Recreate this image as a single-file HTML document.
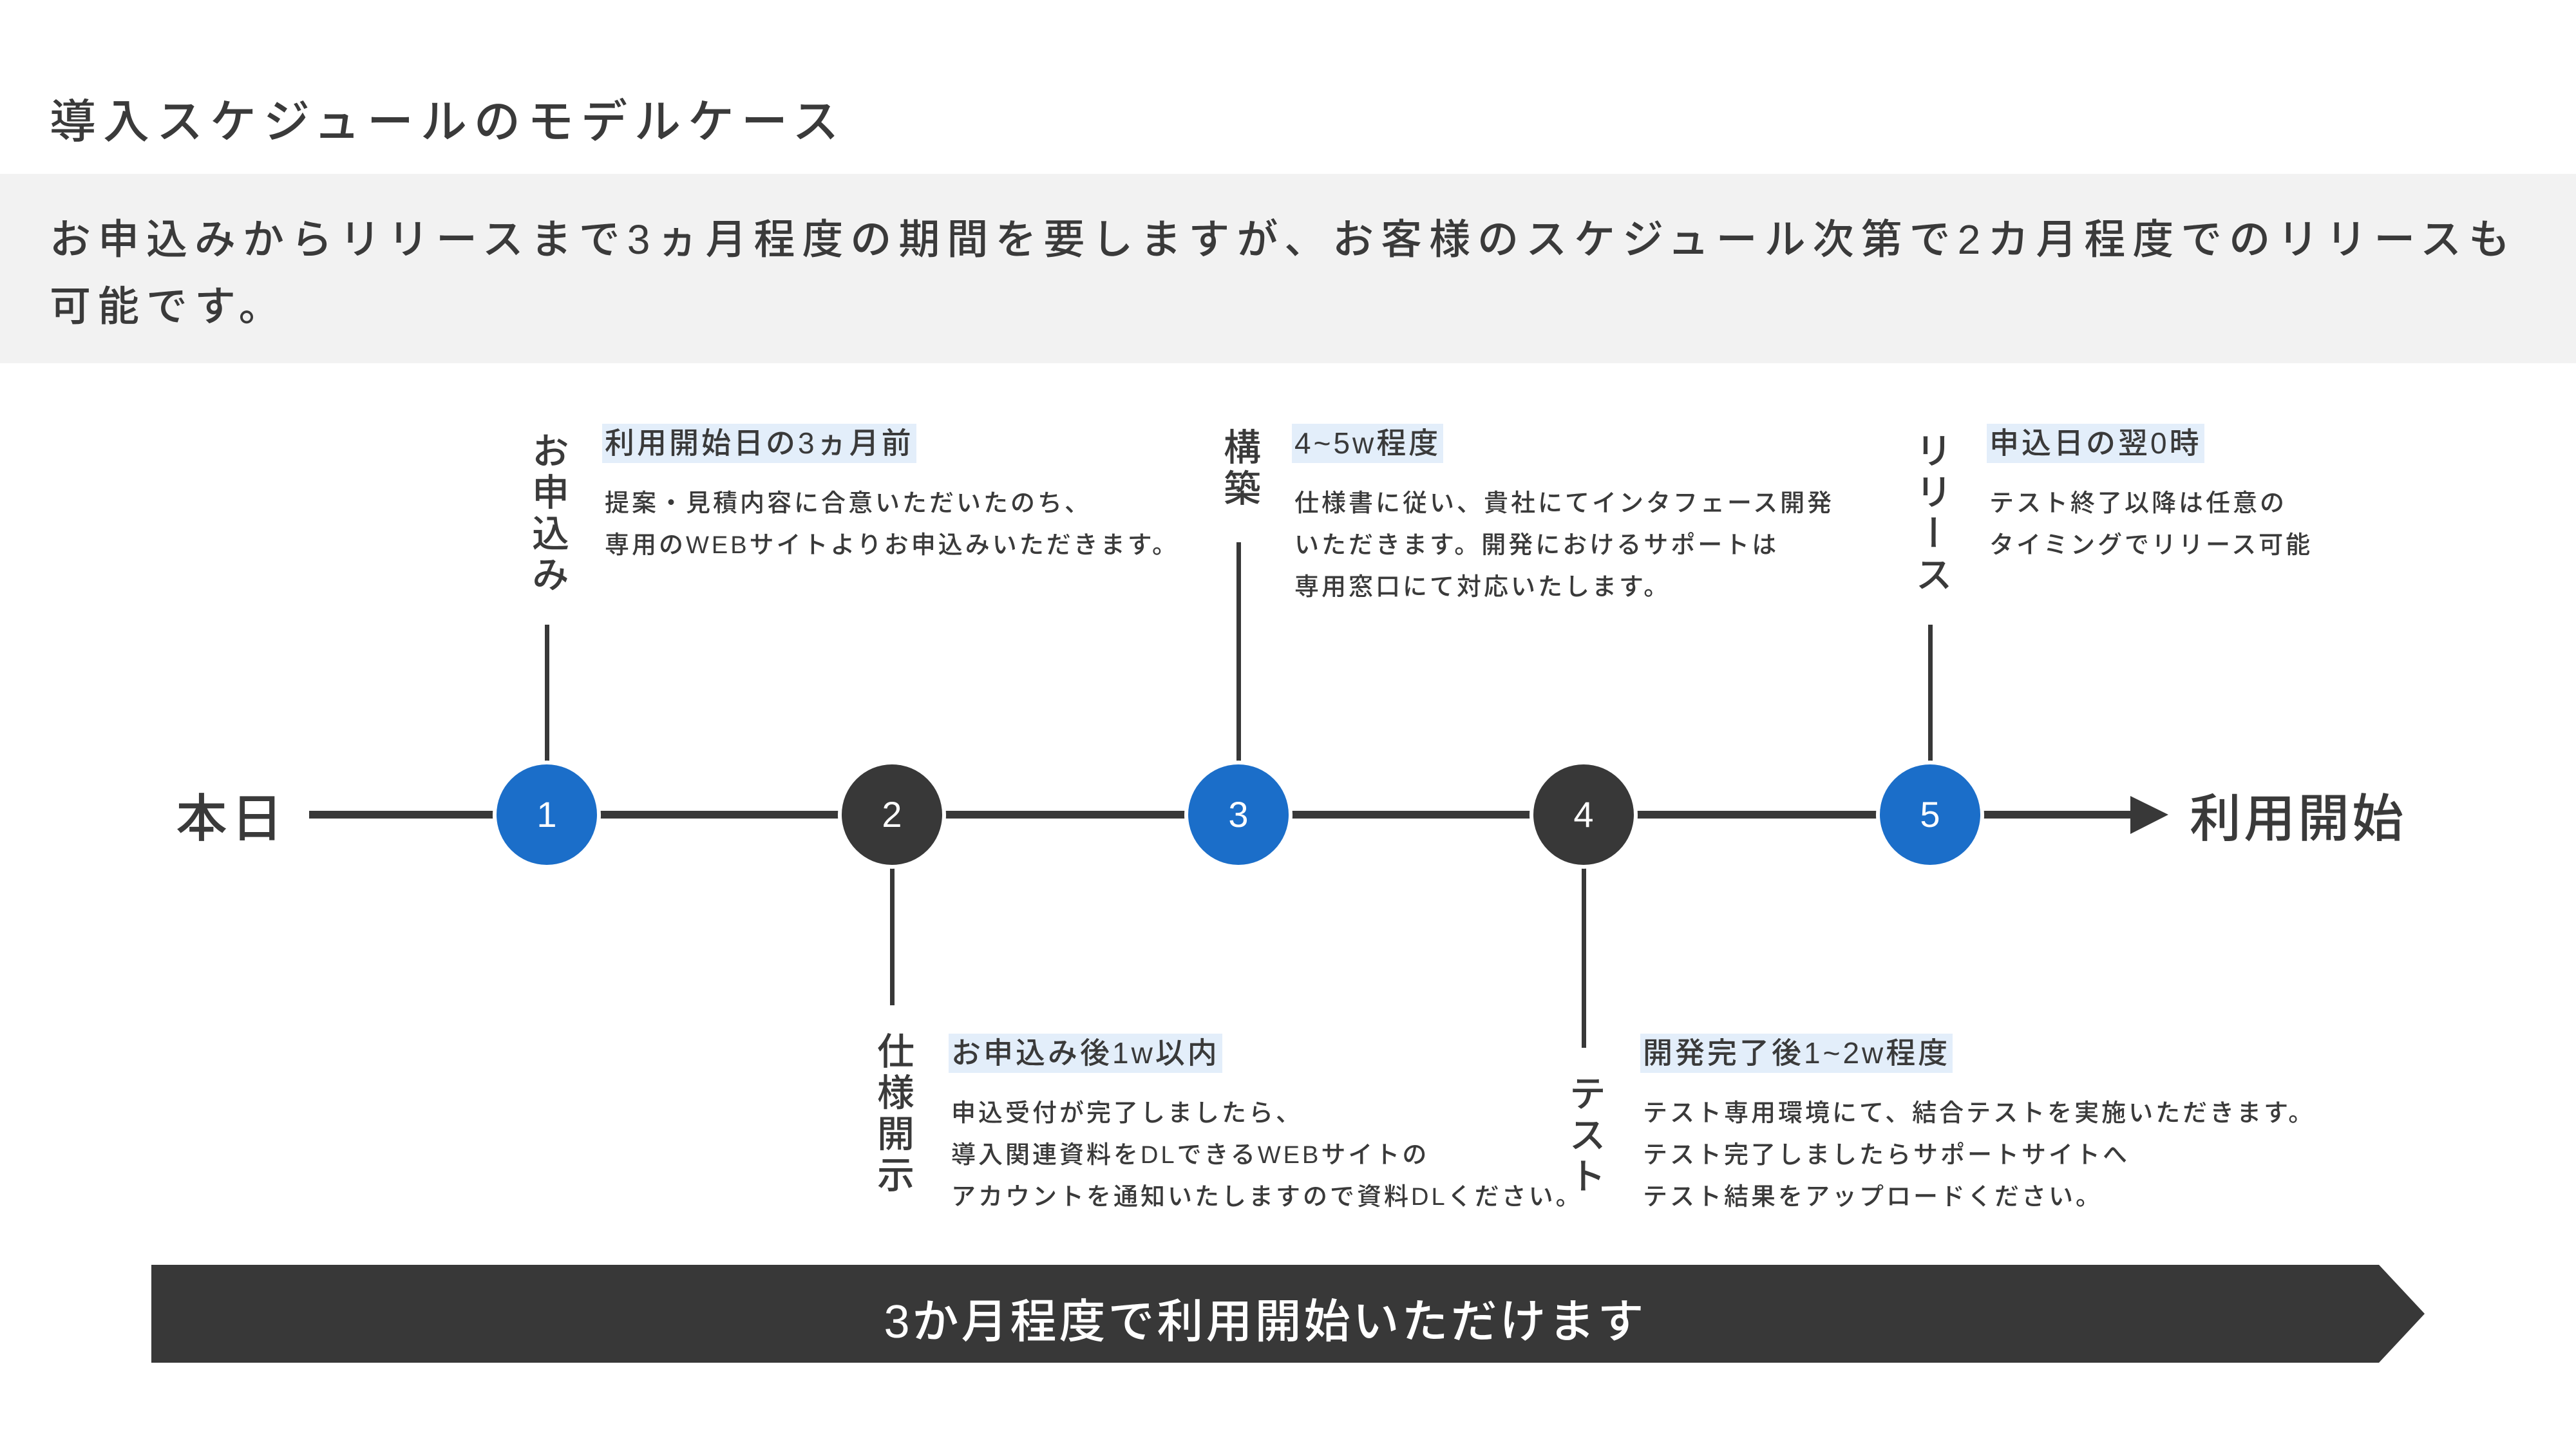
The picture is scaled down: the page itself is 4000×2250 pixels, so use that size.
<!DOCTYPE html>
<html><head><meta charset="utf-8"><style>
body{margin:0;width:4000px;height:2250px;background:#fff;position:relative;overflow:hidden;font-family:"Liberation Sans","Noto Sans CJK JP",sans-serif;color:#3a3a3a}
.a{position:absolute;white-space:nowrap}
.t{font-size:72px;letter-spacing:11px;font-weight:500}
.band{position:absolute;left:0;top:270px;width:4000px;height:294px;background:#f2f2f2}
.bt{font-size:64px;letter-spacing:11px;line-height:104px;left:77px;top:320px;font-weight:500}
.c{position:absolute;width:156px;height:156px;border-radius:50%;color:#fff;font-size:56px;text-align:center;line-height:156px}
.bl{background:#1b6ec9}.dk{background:#383838}
.v{position:absolute;width:7px;background:#383838}
.vt{position:absolute;writing-mode:vertical-rl;font-size:58px;letter-spacing:6px;transform:translateX(-50%);font-weight:500}
.tag{position:absolute;background:#e3eefa;font-size:46px;height:61px;line-height:61px;padding:0 4px;letter-spacing:4px;font-weight:500}
.body{position:absolute;font-size:38px;letter-spacing:4px;line-height:65px;white-space:nowrap;font-weight:500}
</style></head><body>
<div class="a t" style="left:77px;top:130px">導入スケジュールのモデルケース</div>
<div class="band"></div>
<div class="a bt">お申込みからリリースまで3ヵ月程度の期間を要しますが、お客様のスケジュール次第で2カ月程度でのリリースも<br>可能です。</div>

<div class="a" style="left:273px;top:1207px;font-size:80px;letter-spacing:6px;font-weight:500">本日</div>
<div class="a" style="left:3400px;top:1207px;font-size:80px;letter-spacing:4px;font-weight:500">利用開始</div>
<div style="position:absolute;left:480px;top:1259px;width:2830px;height:12px;background:#383838"></div>
<svg style="position:absolute;left:3300px;top:1230px" width="80" height="70"><polygon points="8,6 67,35 8,65" fill="#383838"/></svg>

<div class="v" style="left:846px;top:970px;height:216px"></div>
<div class="v" style="left:1920px;top:842px;height:344px"></div>
<div class="v" style="left:2994px;top:970px;height:216px"></div>
<div class="v" style="left:1382px;top:1344px;height:217px"></div>
<div class="v" style="left:2456px;top:1344px;height:283px"></div>

<div class="c bl" style="left:771px;top:1187px;box-shadow:0 0 0 6px #fff">1</div>
<div class="c dk" style="left:1307px;top:1187px;box-shadow:0 0 0 6px #fff">2</div>
<div class="c bl" style="left:1845px;top:1187px;box-shadow:0 0 0 6px #fff">3</div>
<div class="c dk" style="left:2381px;top:1187px;box-shadow:0 0 0 6px #fff">4</div>
<div class="c bl" style="left:2919px;top:1187px;box-shadow:0 0 0 6px #fff">5</div>

<div class="vt" style="left:849px;top:670px">お申込み</div>
<div class="vt" style="left:1923px;top:664px">構築</div>
<div class="vt" style="left:2997px;top:670px">リリース</div>
<div class="vt" style="left:1385px;top:1602px">仕様開示</div>
<div class="vt" style="left:2459px;top:1668px">テスト</div>

<div class="tag" style="left:935px;top:658px">利用開始日の3ヵ月前</div>
<div class="body" style="left:939px;top:750px">提案・見積内容に合意いただいたのち、<br>専用のWEBサイトよりお申込みいただきます。</div>

<div class="tag" style="left:2006px;top:658px">4~5w程度</div>
<div class="body" style="left:2010px;top:750px">仕様書に従い、貴社にてインタフェース開発<br>いただきます。開発におけるサポートは<br>専用窓口にて対応いたします。</div>

<div class="tag" style="left:3085px;top:658px">申込日の翌0時</div>
<div class="body" style="left:3089px;top:750px">テスト終了以降は任意の<br>タイミングでリリース可能</div>

<div class="tag" style="left:1473px;top:1605px">お申込み後1w以内</div>
<div class="body" style="left:1477px;top:1697px">申込受付が完了しましたら、<br>導入関連資料をDLできるWEBサイトの<br>アカウントを通知いたしますので資料DLください。</div>

<div class="tag" style="left:2547px;top:1605px">開発完了後1~2w程度</div>
<div class="body" style="left:2551px;top:1697px">テスト専用環境にて、結合テストを実施いただきます。<br>テスト完了しましたらサポートサイトへ<br>テスト結果をアップロードください。</div>

<svg style="position:absolute;left:0;top:0" width="4000" height="2250"><polygon points="235,1964 3694,1964 3765,2040 3694,2116 235,2116" fill="#383838"/></svg>
<div class="a" style="left:235px;width:3459px;top:1993px;text-align:center;color:#fff;font-size:72px;letter-spacing:4px;font-weight:500">3か月程度で利用開始いただけます</div>
</body></html>
